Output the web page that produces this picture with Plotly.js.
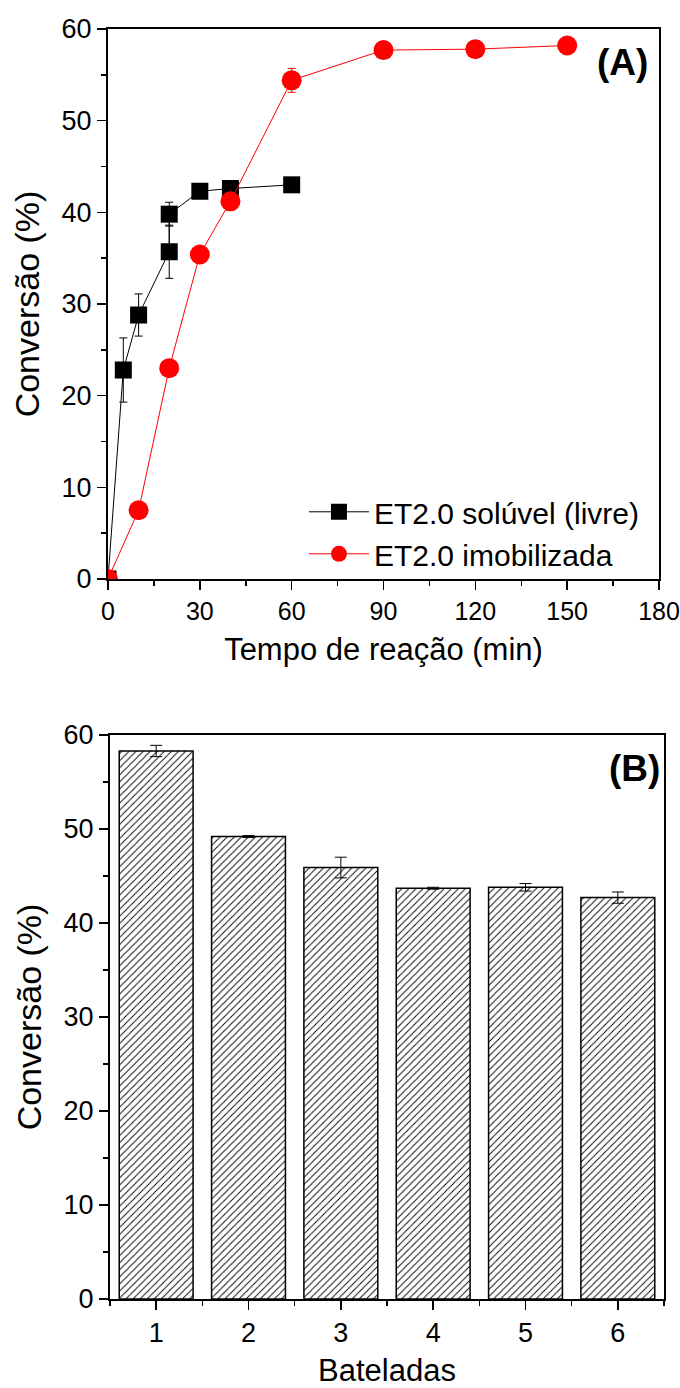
<!DOCTYPE html>
<html>
<head>
<meta charset="utf-8">
<script src="https://cdn.plot.ly/plotly-3.0.1.min.js"></script>
<style>html,body{margin:0;padding:0;background:#fff;}#chart{width:680px;height:1388px;}</style>
</head>
<body>
<div id="chart"></div>
<script>
// Panel A data
const freeTime = [0, 5, 10, 20, 20, 30, 40, 60];
const freeConv = [0, 22.8, 28.8, 35.7, 39.8, 42.3, 42.6, 43.0];
const freeErr  = [0, 3.5, 2.3, 2.9, 1.3, 0.3, 0.3, 0.3];
const immTime = [0, 10, 20, 30, 40, 60, 90, 120, 150];
const immConv = [0, 7.5, 23.0, 35.4, 41.2, 54.4, 57.7, 57.8, 58.2];
const immErr  = [0, 0, 0, 0, 0, 1.3, 0, 0, 0];
const seriesNames = ["ET2.0 solúvel (livre)", "ET2.0 imobilizada"];
// Panel B data
const batches = [1, 2, 3, 4, 5, 6];
const batchConv = [58.3, 49.2, 45.9, 43.7, 43.8, 42.7];
const batchErr = [0.6, 0.1, 1.1, 0.1, 0.4, 0.6];

const FONT = "Liberation Sans, Arial, sans-serif";
const traces = [
  {x: freeTime, y: freeConv, name: seriesNames[0], type: 'scatter', mode: 'lines+markers',
   line: {color: 'black', width: 1}, marker: {symbol: 'square', size: 17, color: 'black'},
   error_y: {type: 'data', array: freeErr, visible: true, color: 'black', thickness: 1, width: 4},
   xaxis: 'x', yaxis: 'y'},
  {x: immTime, y: immConv, name: seriesNames[1], type: 'scatter', mode: 'lines+markers',
   line: {color: '#ff0000', width: 1}, marker: {symbol: 'circle', size: 20, color: '#ff0000'},
   error_y: {type: 'data', array: immErr, visible: true, color: '#ff0000', thickness: 1, width: 4},
   xaxis: 'x', yaxis: 'y'},
  {x: batches, y: batchConv, type: 'bar', width: 0.8, showlegend: false,
   marker: {color: 'white', line: {color: 'black', width: 1.5},
            pattern: {shape: '/', fgcolor: 'black', bgcolor: 'white', size: 5, solidity: 0.18}},
   error_y: {type: 'data', array: batchErr, visible: true, color: 'black', thickness: 1, width: 6},
   xaxis: 'x2', yaxis: 'y2'}
];

const axBase = {
  showline: true, linecolor: 'black', linewidth: 2, mirror: true,
  ticks: 'outside', ticklen: 9, tickwidth: 1.5, tickcolor: 'black',
  showgrid: false, zeroline: false, automargin: false, ticklabeloverflow: 'allow',
  tickfont: {family: FONT, size: 27, color: 'black'}
};
const mirrorBase = {
  showline: false, showgrid: false, zeroline: false, showticklabels: false,
  ticks: 'inside', ticklen: 6, tickwidth: 1.5, tickcolor: 'black'
};
const xTitleFont = {family: FONT, size: 31, color: 'black'};
const yTitleFont = {family: FONT, size: 34, color: 'black'};

const layout = {
  width: 680, height: 1388,
  margin: {l: 0, r: 0, t: 0, b: 0},
  paper_bgcolor: 'white', plot_bgcolor: 'white',
  font: {family: FONT, color: 'black'},
  showlegend: true,
  legend: {x: 0.447, y: 0.650, xanchor: 'left', yanchor: 'top', bgcolor: 'rgba(0,0,0,0)',
           font: {family: FONT, size: 30, color: 'black'}, itemwidth: 60, tracegroupgap: 0},
  xaxis: Object.assign({}, axBase, {domain: [108/680, 659/680], anchor: 'y', range: [0, 180], dtick: 30,
    tickfont: {family: FONT, size: 25, color: 'black'},
    minor: {dtick: 15, ticks: 'outside', ticklen: 5, tickcolor: 'black'},
    title: {text: 'Tempo de reação (min)', font: xTitleFont, standoff: 14}}),
  yaxis: Object.assign({}, axBase, {domain: [1 - 579/1388, 1 - 29/1388], anchor: 'x', range: [0, 60], dtick: 10,
    minor: {dtick: 5, ticks: 'outside', ticklen: 5, tickcolor: 'black'},
    title: {text: 'Conversão (%)', font: yTitleFont, standoff: 12}}),
  xaxis3: Object.assign({}, mirrorBase, {overlaying: 'x', side: 'top', anchor: 'y', range: [0, 180], dtick: 30,
    minor: {dtick: 15, ticks: 'inside', ticklen: 4, tickcolor: 'black'}}),
  yaxis3: Object.assign({}, mirrorBase, {overlaying: 'y', side: 'right', anchor: 'x', range: [0, 60], dtick: 10,
    minor: {dtick: 5, ticks: 'inside', ticklen: 4, tickcolor: 'black'}}),
  xaxis2: Object.assign({}, axBase, {domain: [110/680, 664/680], anchor: 'y2', range: [0.5, 6.5], dtick: 1, tick0: 0,
    minor: {dtick: 0.5, tick0: 0.5, ticks: 'outside', ticklen: 5, tickcolor: 'black'},
    title: {text: 'Bateladas', font: xTitleFont, standoff: 18}}),
  yaxis2: Object.assign({}, axBase, {domain: [1 - 1299/1388, 1 - 735/1388], anchor: 'x2', range: [0, 60], dtick: 10,
    minor: {dtick: 5, ticks: 'outside', ticklen: 5, tickcolor: 'black'},
    title: {text: 'Conversão (%)', font: yTitleFont, standoff: 12}}),
  xaxis4: Object.assign({}, mirrorBase, {overlaying: 'x2', side: 'top', anchor: 'y2', range: [0.5, 6.5], dtick: 0.5, tick0: 0.5, ticklen: 4}),
  yaxis4: Object.assign({}, mirrorBase, {overlaying: 'y2', side: 'right', anchor: 'x2', range: [0, 60], dtick: 10,
    minor: {dtick: 5, ticks: 'inside', ticklen: 4, tickcolor: 'black'}}),
  annotations: [
    {text: '<b>(A)</b>', xref: 'paper', yref: 'paper', x: 622/680, y: 1 - 62/1388, xanchor: 'center', yanchor: 'middle',
     showarrow: false, font: {family: FONT, size: 37, color: 'black'}},
    {text: '<b>(B)</b>', xref: 'paper', yref: 'paper', x: 634/680, y: 1 - 768/1388, xanchor: 'center', yanchor: 'middle',
     showarrow: false, font: {family: FONT, size: 37, color: 'black'}}
  ]
};

Plotly.newPlot('chart', traces, layout, {staticPlot: true});
</script>
</body>
</html>
